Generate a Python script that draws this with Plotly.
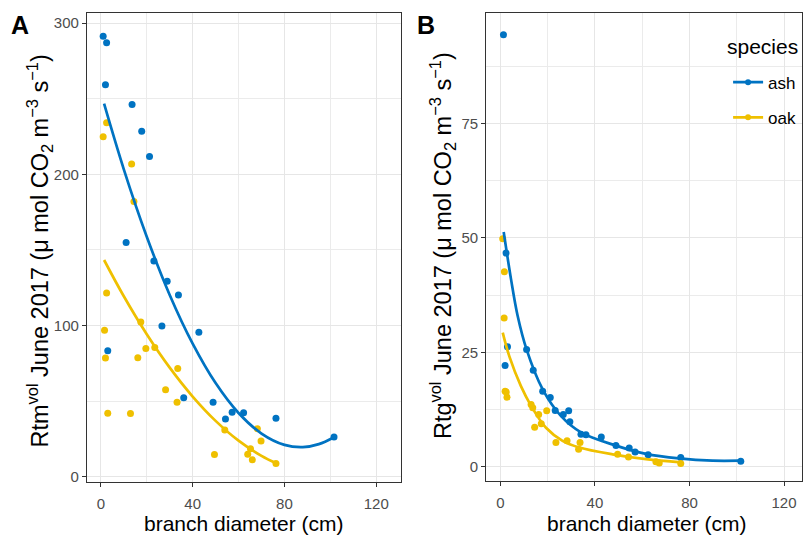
import plotly.graph_objects as go

# ---------------- data ----------------
# Panel A: Rtm (umol CO2 m-3 s-1) vs branch diameter (cm)
ash_A_x = [1.0, 2.5, 2.0, 13.6, 17.8, 21.2, 11.0, 23.1, 28.9, 33.8, 26.6, 42.7, 3.0, 36.1, 48.9, 57.2, 54.3, 62.2, 76.3, 101.6]
ash_A_y = [291.3, 287.0, 259.2, 246.1, 228.4, 211.8, 154.8, 142.7, 129.2, 120.2, 99.7, 95.5, 83.3, 52.2, 49.2, 42.6, 38.2, 42.2, 38.7, 26.2]
oak_A_x = [2.5, 1.0, 13.4, 14.4, 2.5, 17.4, 1.6, 19.6, 23.5, 2.0, 16.1, 33.5, 28.2, 33.2, 3.0, 12.9, 54.0, 68.2, 69.8, 49.5, 65.2, 64.0, 66.0, 76.3]
oak_A_y = [234.1, 224.9, 206.8, 182.0, 121.5, 102.3, 96.8, 84.8, 85.4, 78.4, 78.7, 71.5, 57.4, 49.2, 42.0, 41.7, 30.8, 31.7, 23.6, 14.6, 18.4, 14.8, 11.1, 8.7]
# fitted curves
ash_A_fit_x = [1.4, 10, 20, 30, 40, 50, 60, 70, 80, 88, 95, 101.4]
ash_A_fit_y = [246.7, 203.3, 158.7, 120.2, 88.0, 61.9, 42.1, 28.5, 21.0, 19.5, 21.5, 25.9]
oak_A_fit_x = [1.4, 10, 20, 30, 40, 50, 60, 70, 76.5]
oak_A_fit_y = [143.3, 119.3, 94.2, 72.1, 53.0, 36.9, 23.8, 13.7, 8.8]

# Panel B: Rtg (umol CO2 m-3 s-1) vs branch diameter (cm)
ash_B_x = [1.3, 2.4, 3.0, 2.0, 11.1, 13.9, 17.9, 21.1, 23.2, 28.9, 26.6, 29.4, 34.1, 36.2, 42.7, 48.9, 54.5, 57.0, 62.5, 76.3, 101.7]
ash_B_y = [94.4, 46.7, 26.2, 22.1, 25.6, 21.1, 16.5, 15.1, 12.3, 12.2, 11.4, 9.8, 7.1, 6.95, 6.5, 4.6, 4.1, 3.2, 2.6, 2.0, 1.2]
oak_B_x = [1.0, 1.7, 1.6, 2.0, 2.5, 2.8, 13.0, 13.7, 16.2, 19.6, 17.3, 14.5, 23.5, 28.2, 33.7, 33.1, 49.6, 54.2, 65.8, 67.2, 76.3]
oak_B_y = [49.8, 42.6, 32.5, 16.5, 16.3, 15.2, 13.6, 12.9, 11.4, 12.2, 9.4, 8.6, 5.3, 5.65, 5.3, 3.8, 2.7, 2.1, 1.1, 0.8, 0.7]
ash_B_fit_x = [1.4, 4.5, 7.3, 11.1, 17.9, 25.6, 34.1, 48.9, 61.6, 75.6, 89.7, 101.4]
ash_B_fit_y = [51.3, 41.0, 33.0, 25.6, 16.9, 11.1, 7.5, 4.6, 2.8, 1.8, 1.3, 1.3]
oak_B_fit_x = [1.0, 3.8, 8.7, 13.0, 19.3, 26.3, 33.4, 47.5, 61.6, 76.5]
oak_B_fit_y = [29.3, 24.1, 17.6, 13.3, 8.5, 5.65, 4.2, 2.7, 1.65, 0.95]

species = ["ash", "oak"]
x_ticks = [0, 40, 80, 120]
yA_ticks = [0, 100, 200, 300]
yB_ticks = [0, 25, 50, 75]

# ---------------- style ----------------
BLUE = "#0073C2"
YELL = "#EFC000"
FONT = "Liberation Sans, Arial, sans-serif"
W, H = 803, 538

fig = go.Figure()

def add_panel(xa, ya, ax, ay, fx_a, fy_a, ox, oy, fx_o, fy_o):
    for (px, py, c) in [(ax, ay, BLUE), (ox, oy, YELL)]:
        fig.add_trace(go.Scatter(x=px, y=py, mode="markers", xaxis=xa, yaxis=ya,
                                 marker=dict(color=c, size=7), showlegend=False, hoverinfo="skip"))
    for (px, py, c) in [(fx_a, fy_a, BLUE), (fx_o, fy_o, YELL)]:
        fig.add_trace(go.Scatter(x=px, y=py, mode="lines", xaxis=xa, yaxis=ya,
                                 line=dict(color=c, width=2.7, shape="spline", smoothing=1.0),
                                 showlegend=False, hoverinfo="skip"))

add_panel("x", "y", ash_A_x, ash_A_y, ash_A_fit_x, ash_A_fit_y, oak_A_x, oak_A_y, oak_A_fit_x, oak_A_fit_y)
add_panel("x2", "y2", ash_B_x, ash_B_y, ash_B_fit_x, ash_B_fit_y, oak_B_x, oak_B_y, oak_B_fit_x, oak_B_fit_y)

for name, c in zip(species, [BLUE, YELL]):
    fig.add_trace(go.Scatter(x=[None], y=[None], mode="lines+markers", name=name, legendgroup=name,
                             line=dict(color=c, width=2.7), marker=dict(color=c, size=6),
                             xaxis="x2", yaxis="y2"))

def px_x(p):
    return p / W

def px_y(p):
    return 1 - p / H

axis_common = dict(showline=True, linecolor="#333333", linewidth=1, mirror=True,
                   ticks="outside", ticklen=4, tickcolor="#333333", tickwidth=1,
                   showgrid=True, gridcolor="#E6E6E6", gridwidth=1.3, zeroline=False,
                   tickfont=dict(family=FONT, size=15, color="#4D4D4D"))
minor_common = dict(showgrid=True, gridcolor="#EBEBEB", gridwidth=0.7, tick0=0)

fig.update_layout(
    width=W, height=H, autosize=False,
    margin=dict(l=0, r=0, t=0, b=0),
    paper_bgcolor="white", plot_bgcolor="white",
    xaxis=dict(domain=[px_x(87), px_x(401)], range=[-6.09, 130.57], tickvals=x_ticks, anchor="y",
               ticklabelstandoff=4, minor=dict(dtick=20, **minor_common), **axis_common),
    yaxis=dict(domain=[px_y(485), px_y(13.5)], range=[-3.74, 306.4], tickvals=yA_ticks, anchor="x",
               minor=dict(dtick=50, **minor_common), **axis_common),
    xaxis2=dict(domain=[px_x(486.7), 1.0], range=[-6.04, 127.6], tickvals=x_ticks, anchor="y2",
                ticklabelstandoff=4, minor=dict(dtick=20, **minor_common), **axis_common),
    yaxis2=dict(domain=[px_y(484), px_y(13.5)], range=[-3.2, 99.09], tickvals=yB_ticks, anchor="x2",
                minor=dict(dtick=12.5, **minor_common), **axis_common),
    legend=dict(x=px_x(729), y=px_y(65), xanchor="left", yanchor="top", bgcolor="rgba(0,0,0,0)",
                font=dict(family=FONT, size=17, color="black"), tracegroupgap=10, itemwidth=30),
    showlegend=True,
    shapes=[dict(type="rect", xref="paper", yref="paper", x0=px_x(716), x1=1.0,
                 y0=px_y(142), y1=px_y(25), fillcolor="white", line=dict(width=0), layer="below")],
)

ytitle_A = "Rtm<sup>vol</sup> June 2017 (μ mol CO<sub>2</sub> m<sup>−3</sup> s<sup>−1</sup>)"
ytitle_B = "Rtg<sup>vol</sup> June 2017 (μ mol CO<sub>2</sub> m<sup>−3</sup> s<sup>−1</sup>)"
annotations = []
for t, cx in [("<b>A</b>", 20), ("<b>B</b>", 427)]:
    annotations.append(dict(text=t, x=px_x(cx), y=px_y(25), xref="paper", yref="paper",
                            showarrow=False, xanchor="center", yanchor="middle",
                            font=dict(family=FONT, size=25, color="black")))
annotations.append(dict(text="species", x=px_x(726), y=px_y(47), xref="paper", yref="paper",
                        showarrow=False, xanchor="left", yanchor="middle",
                        font=dict(family=FONT, size=21, color="black")))
for t, cx, cy in [(ytitle_A, 40, 252), (ytitle_B, 443, 247)]:
    annotations.append(dict(text=t, x=px_x(cx), y=px_y(cy), xref="paper", yref="paper", showarrow=False,
                            textangle=-90, xanchor="center", yanchor="middle",
                            font=dict(family=FONT, size=23.5, color="black")))
for cx in [244, 648]:
    annotations.append(dict(text="branch diameter (cm)", x=px_x(cx), y=px_y(526), xref="paper", yref="paper",
                            showarrow=False, xanchor="center", yanchor="middle",
                            font=dict(family=FONT, size=21, color="black")))
fig.update_layout(annotations=annotations)

fig.write_html("out.html")
